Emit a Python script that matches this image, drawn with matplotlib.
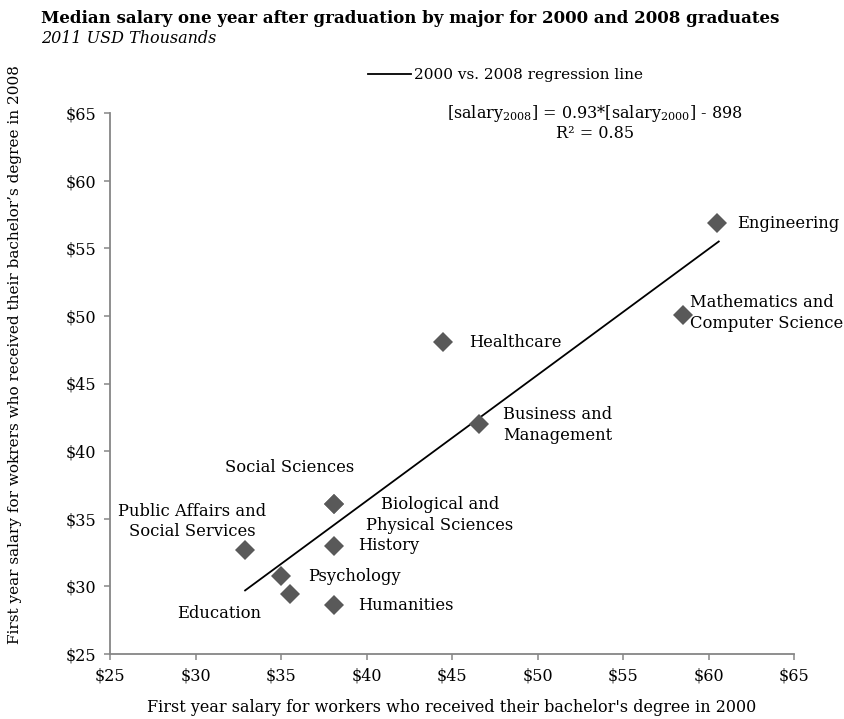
import numpy as np
import matplotlib
matplotlib.use("Agg")
import matplotlib.pyplot as plt
from matplotlib.ticker import FuncFormatter

plt.rcParams['font.family'] = ['DejaVu Serif']
plt.rcParams['mathtext.fontset'] = 'dejavuserif'

# median first-year salary, 2011 USD thousands
majors = ['Engineering', 'Mathematics and\nComputer Science', 'Healthcare',
          'Business and\nManagement', 'Social Sciences',
          'Biological and\nPhysical Sciences', 'History',
          'Public Affairs and\nSocial Services', 'Psychology', 'Education',
          'Humanities']
# Biological and Physical Sciences shares the Social Sciences marker
sal_2000 = [60.5, 58.5, 44.5, 46.6, 38.1, 38.1, 38.1, 32.9, 35.0, 35.5, 38.1]
sal_2008 = [56.9, 50.1, 48.1, 42.0, 36.1, 36.1, 33.0, 32.7, 30.8, 29.4, 28.6]

# regression line end points
reg_x = [32.9, 60.6]
reg_y = [29.7, 55.5]

# label anchors (x, y, ha)
label_pos = [(61.7, 56.8, 'left'), (58.9, 50.2, 'left'), (46.0, 48.0, 'left'),
             (48.0, 41.9, 'left'), (35.5, 38.8, 'center'), (44.3, 35.3, 'center'),
             (39.5, 33.0, 'left'), (29.8, 34.8, 'center'), (36.6, 30.7, 'left'),
             (28.9, 28.0, 'left'), (39.5, 28.55, 'left')]

fig = plt.figure(figsize=(8.44, 7.19), dpi=100)
ax = fig.add_axes([110/844, 1 - 654/719, (794 - 110)/844, (654 - 113)/719])

line, = ax.plot(reg_x, reg_y, color='black', lw=1.3, label='2000 vs. 2008 regression line')
ax.plot(sal_2000, sal_2008, 'D', color='#595959', ms=10, mew=0, zorder=3)

for name, (lx, ly, ha) in zip(majors, label_pos):
    ax.text(lx, ly, name, ha=ha, va='center', fontsize=11.8, multialignment=ha,
            linespacing=1.3)

ax.set_xlim(25, 65)
ax.set_ylim(25, 65)
ax.set_xticks(np.arange(25, 66, 5))
ax.set_yticks(np.arange(25, 66, 5))
fmt = FuncFormatter(lambda v, p: '${:.0f}'.format(v))
ax.xaxis.set_major_formatter(fmt)
ax.yaxis.set_major_formatter(fmt)
for s in ['top', 'right']:
    ax.spines[s].set_visible(False)
for s in ['left', 'bottom']:
    ax.spines[s].set_color('#868686')
    ax.spines[s].set_linewidth(1.3)
ax.tick_params(direction='out', length=4, width=1.1, color='#868686',
               labelsize=11.5, pad=6)

ax.set_xlabel("First year salary for workers who received their bachelor's degree in 2000",
              fontsize=11.5, labelpad=10)
fig.text(15/844, 1 - 355/719,
         "First year salary for wokrers who received their bachelor\u2019s degree in 2008",
         rotation=90, ha='center', va='center', fontsize=11)

fig.text(41/844, 1 - 10/719,
         'Median salary one year after graduation by major for 2000 and 2008 graduates',
         fontsize=12, fontweight='bold', va='top')
fig.text(41/844, 1 - 30/719, '2011 USD Thousands', fontsize=11.5, style='italic', va='top')

ax.legend(handles=[line], loc='center left', bbox_to_anchor=(368/844, 1 - 75/719),
          bbox_transform=fig.transFigure, frameon=False, fontsize=11,
          handlelength=2.8, handletextpad=0.2, borderpad=0, borderaxespad=0)

ax.text(0.709, 1.0, r'[salary$_{2008}$] = 0.93*[salary$_{2000}$] - 898',
        transform=ax.transAxes, ha='center', va='center', fontsize=11.5)
ax.text(0.709, 0.963, 'R\u00b2 = 0.85', transform=ax.transAxes, ha='center',
        va='center', fontsize=11.5)

fig.savefig('out.png', dpi=100)
